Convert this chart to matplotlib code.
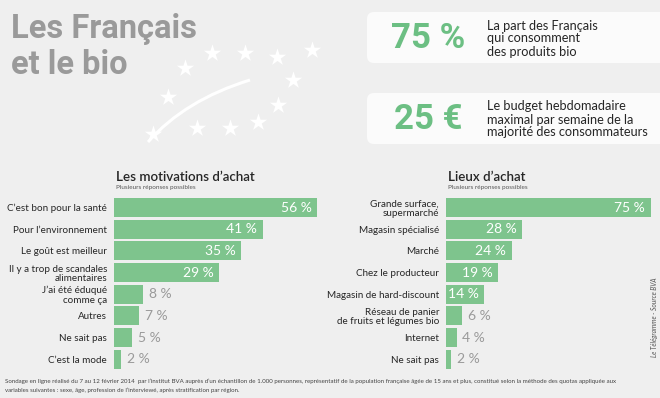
import matplotlib
matplotlib.use("Agg")
import matplotlib.pyplot as plt
from matplotlib.patches import FancyBboxPatch, PathPatch
from matplotlib.path import Path

# ---------------- data ----------------
motiv_labels = ["C\u2019est bon pour la santé", "Pour l\u2019environnement", "Le goût est meilleur",
                "Il y a trop de scandales\nalimentaires", "J\u2019ai été éduqué\ncomme ça", "Autres",
                "Ne sait pas", "C\u2019est la mode"]
motiv_values = [56, 41, 35, 29, 8, 7, 5, 2]

lieux_labels = ["Grande surface,\nsupermarché", "Magasin spécialisé", "Marché", "Chez le producteur",
                "Magasin de hard-discount", "Réseau de panier\nde fruits et légumes bio", "Internet",
                "Ne sait pas"]
lieux_values = [75, 28, 24, 19, 14, 6, 4, 2]

kpi_values = ["75 %", "25 \u20ac"]
kpi_texts = ["La part des Français\nqui consomment\ndes produits bio",
             "Le budget hebdomadaire\nmaximal par semaine de la\nmajorité des consommateurs"]

title_lines = ["Les Français", "et le bio"]
chart_titles = ["Les motivations d\u2019achat", "Lieux d\u2019achat"]
subtitle = "Plusieurs réponses possibles"
footer = ("Sondage en ligne réalisé du 7 au 12 février 2014  par l\u2019institut BVA auprès d\u2019un échantillon "
          "de 1.000 personnes, représentatif de la population française âgée de 15 ans et plus, constitué selon "
          "la méthode des quotas appliquée aux\nvariables suivantes : sexe, âge, profession de l\u2019interviewé, "
          "après stratification par région.")
credit = "Le Télégramme - Source BVA"

# ---------------- style ----------------
FONT = "Lato"
BOLDFONT = ["Roboto", "DejaVu Sans"]
BG = "#efefef"
GREEN = "#7ec48d"
KPI_GREEN = "#6cbf83"
DARK = "#262626"
GREY = "#9a9a9a"
W, H = 660, 398

plt.rcParams["font.family"] = [FONT, "DejaVu Sans"]

fig = plt.figure(figsize=(W / 100, H / 100), dpi=100, facecolor=BG)

# overlay axes in pixel coordinates for decoration
ov = fig.add_axes([0, 0, 1, 1], zorder=0)
ov.set_xlim(0, W)
ov.set_ylim(H, 0)
ov.axis("off")

# main title
for line, base in zip(title_lines, [38, 74]):
    ov.text(11, base, line, fontsize=23.5, fontweight="bold", color=GREY, va="baseline",
            ha="left", family=BOLDFONT)

# organic-logo like stars (decoration)
stars = [(212, 53), (245, 53), (277, 57), (312, 50), (293, 80), (278, 105), (258, 122),
         (230, 128), (197, 128), (185, 68), (168, 97), (153, 134)]
ov.scatter([s[0] for s in stars], [s[1] for s in stars], marker="*", s=170, color="white",
           linewidths=0, zorder=2)
leaf = Path([(148, 142), (185, 100), (250, 80)], [Path.MOVETO, Path.CURVE3, Path.CURVE3])
ov.add_patch(PathPatch(leaf, facecolor="none", edgecolor="white", lw=2.2, zorder=2))

# KPI boxes
box_tops = [12, 93]
for i, top in enumerate(box_tops):
    ov.add_patch(FancyBboxPatch((367, top), 320, 51, boxstyle="round,pad=0,rounding_size=7",
                                facecolor="#fbfbfb", edgecolor="none", zorder=1))
    cy = top + 25.5
    ov.text(428, cy + 1, kpi_values[i], fontsize=25, fontweight="bold", color=KPI_GREEN,
            ha="center", va="center", zorder=3, family=BOLDFONT)
    ov.text(487, cy + 1, kpi_texts[i], fontsize=9.2, color=DARK, ha="left", va="center",
            linespacing=1.1, zorder=3)

# footer
ov.text(5, 386, footer, fontsize=4.45, color="#444444", ha="left", va="center", linespacing=1.7)
ov.text(655, 317, credit, fontsize=4.8, color="#555555", rotation=90, style="italic",
        ha="center", va="center")

# ---------------- bar charts ----------------
PITCH = 21.67
TOP = 196.7
n = len(motiv_values)


def bar_chart(left_px, scale, labels, values, ctitle):
    width_px = 212
    ax = fig.add_axes([left_px / W, 1 - (TOP + n * PITCH) / H, width_px / W, n * PITCH / H],
                      zorder=2)
    ax.set_facecolor("none")
    ypos = list(range(len(values)))
    ax.barh(ypos, values, height=19 / PITCH, color=GREEN, edgecolor="none")
    ax.set_xlim(0, width_px / scale)
    ax.set_ylim(len(values) - 0.5, -0.5)
    for s in ax.spines.values():
        s.set_visible(False)
    ax.set_xticks([])
    ax.set_yticks(ypos)
    ax.set_yticklabels(labels, fontsize=7.1, color=DARK, linespacing=1.05)
    ax.tick_params(axis="y", length=0, pad=5)
    for y, v in zip(ypos, values):
        if v * scale > 35:
            ax.annotate(f"{v} %", (v, y), xytext=(-4, 0), textcoords="offset points",
                        ha="right", va="center", color="white", fontsize=10)
        else:
            ax.annotate(f"{v} %", (v, y), xytext=(4, 0), textcoords="offset points",
                        ha="left", va="center", color=GREY, fontsize=10)
    ov.text(left_px + 2, 181, ctitle, fontsize=9.6, fontweight="semibold", color=DARK,
            ha="left", va="baseline")
    ov.text(left_px + 2, 189, subtitle, fontsize=4.6, color="#555555", ha="left", va="baseline")
    return ax


bar_chart(114, 3.63, motiv_labels, motiv_values, chart_titles[0])
bar_chart(446, 2.73, lieux_labels, lieux_values, chart_titles[1])

fig.savefig("out.png", dpi=100, facecolor=BG)
